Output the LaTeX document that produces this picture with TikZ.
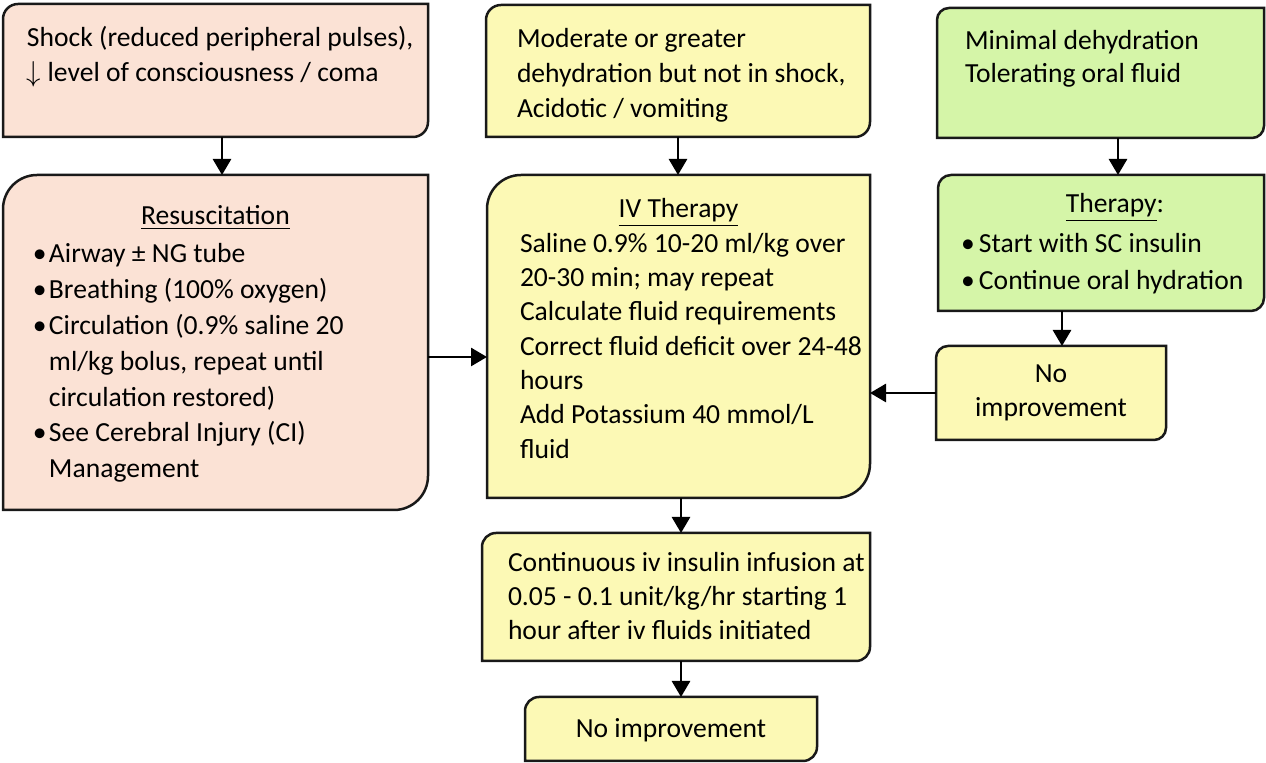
\documentclass[tikz,border=0pt]{standalone}
\usepackage{fontspec}
\setmainfont{Carlito}
\usetikzlibrary{arrows.meta,backgrounds}
\definecolor{shockpink}{RGB}{251,226,213}
\definecolor{ivyellow}{RGB}{252,249,181}
\definecolor{mildgreen}{RGB}{213,245,168}
\newcommand\boxtext[3]{\parbox[t]{#1}{\raggedright\leftskip=#2\relax #3}}
\newcommand\midtext[2]{\parbox[t]{#1}{\centering #2}}
\newcommand\boxhead[1]{\makebox[\dimexpr\hsize-2\leftskip\relax]{#1}}
\newcommand\bul{\makebox[8pt][l]{•}}
\newcommand\sbul{\makebox[7pt][l]{\hspace*{-2pt}•}}
\newcommand\ind{\hspace*{8pt}}
\newcommand\boxoutline[3]{%
  \draw[boxline, fill=#2] (#1.south west) -- ([yshift=-#3]#1.north west)
    arc[start angle=180, end angle=90, radius=#3] -- (#1.north east)
    -- ([yshift=#3]#1.south east) arc[start angle=0, end angle=-90, radius=#3] -- cycle;}
\begin{document}
\begin{tikzpicture}[x=0.5pt, y=-0.5pt,
  box/.style={anchor=north west, inner sep=0pt, outer sep=0pt,
    font=\fontsize{13.8}{17.5}\selectfont},
  boxline/.style={line width=1.25pt, draw=black!90},
  arr/.style={-{Triangle[length=8pt,width=9pt]}, line width=1.4pt}]
  \useasboundingbox (0,0) rectangle (1266,763);

  \node[box, text height=21.5pt, text depth=45pt] (shock) at (3,4)
    {\boxtext{212.5pt}{12pt}{Shock (reduced peripheral pulses),\\ $\downarrow$ level of consciousness / coma}};
  \node[box, text height=25pt, text depth=142.5pt,
    font=\fontsize{13.8}{17.9}\selectfont] (resus) at (3,175)
    {\boxtext{212.5pt}{15pt}{\boxhead{\underline{Resuscitation}}\\[1.1pt]
     \bul Airway ± NG tube\\
     \bul Breathing (100\% oxygen)\\
     \bul Circulation (0.9\% saline 20\\
     \ind ml/kg bolus, repeat until\\
     \ind circulation restored)\\
     \bul See Cerebral Injury (CI)\\
     \ind Management}};
  \node[box, text height=21.5pt, text depth=44.5pt] (moderate) at (486,5)
    {\boxtext{192pt}{15.5pt}{Moderate or greater\\ dehydration but not in shock,\\ Acidotic / vomiting}};
  \node[box, text height=21.5pt, text depth=140pt,
    font=\fontsize{13.8}{17.15}\selectfont] (iv) at (487,175)
    {\boxtext{191.5pt}{16.5pt}{\boxhead{\underline{IV Therapy}}\\
     Saline 0.9\% 10-20 ml/kg over\\
     20-30 min; may repeat\\
     Calculate fluid requirements\\
     Correct fluid deficit over 24-48\\
     hours\\
     Add Potassium 40 mmol/L\\
     fluid}};
  \node[box, text height=21pt, text depth=44pt,
    font=\fontsize{13.8}{16.5}\selectfont] (mintop) at (937,8)
    {\boxtext{163.5pt}{14pt}{Minimal dehydration\\ Tolerating oral fluid}};
  \node[box, text height=19pt, text depth=49pt,
    font=\fontsize{13.8}{18.5}\selectfont] (therapy) at (938,175)
    {\boxtext{163pt}{13.5pt}{\boxhead{\hspace{14pt}\underline{Therapy}:}\\[1.5pt]
     \sbul Start with SC insulin\\
     \sbul Continue oral hydration}};
  \node[box, text height=18.5pt, text depth=28.5pt,
    font=\fontsize{13.8}{17}\selectfont] (noimpR) at (936,346)
    {\midtext{115pt}{No\\ improvement}};
  \node[box, text height=19.5pt, text depth=44.5pt,
    font=\fontsize{13.8}{17}\selectfont] (cont) at (482,533)
    {\boxtext{194pt}{13pt}{Continuous iv insulin infusion at\\
     0.05 - 0.1 unit/kg/hr starting 1\\
     hour after iv fluids initiated}};
  \node[box, text height=20.5pt, text depth=11.5pt] (noimpB) at (525,697)
    {\midtext{146pt}{No improvement}};

  \begin{scope}[on background layer]
    \fill[white] (0,0) rectangle (1266,763);
    \boxoutline{shock}{shockpink}{7.5pt}
    \boxoutline{resus}{shockpink}{17pt}
    \boxoutline{moderate}{ivyellow}{7.5pt}
    \boxoutline{iv}{ivyellow}{17pt}
    \boxoutline{mintop}{mildgreen}{6pt}
    \boxoutline{therapy}{mildgreen}{6.5pt}
    \boxoutline{noimpR}{ivyellow}{6pt}
    \boxoutline{cont}{ivyellow}{7pt}
    \boxoutline{noimpB}{ivyellow}{7pt}
  \end{scope}

  \coordinate (a1) at ([xshift=3.25pt]shock.south);
  \draw[arr] (a1) -- (a1 |- resus.north);
  \coordinate (a2) at (moderate.south);
  \draw[arr] (a2) -- (a2 |- iv.north);
  \coordinate (a3) at ([xshift=8.75pt]mintop.south);
  \draw[arr] (a3) -- (a3 |- therapy.north);
  \coordinate (a4) at ([xshift=5.5pt]noimpR.north);
  \draw[arr] (a4 |- therapy.south) -- (a4);
  \coordinate (a5) at ([xshift=1.25pt]iv.south);
  \draw[arr] (a5) -- (a5 |- cont.north);
  \draw[arr] (a5 |- cont.south) -- (a5 |- noimpB.north);
  \coordinate (a6) at ([yshift=-7.25pt]resus.east);
  \draw[arr] (a6) -- (a6 -| iv.west);
  \draw[arr] (noimpR.west) -- (noimpR.west -| iv.east);
\end{tikzpicture}
\end{document}
